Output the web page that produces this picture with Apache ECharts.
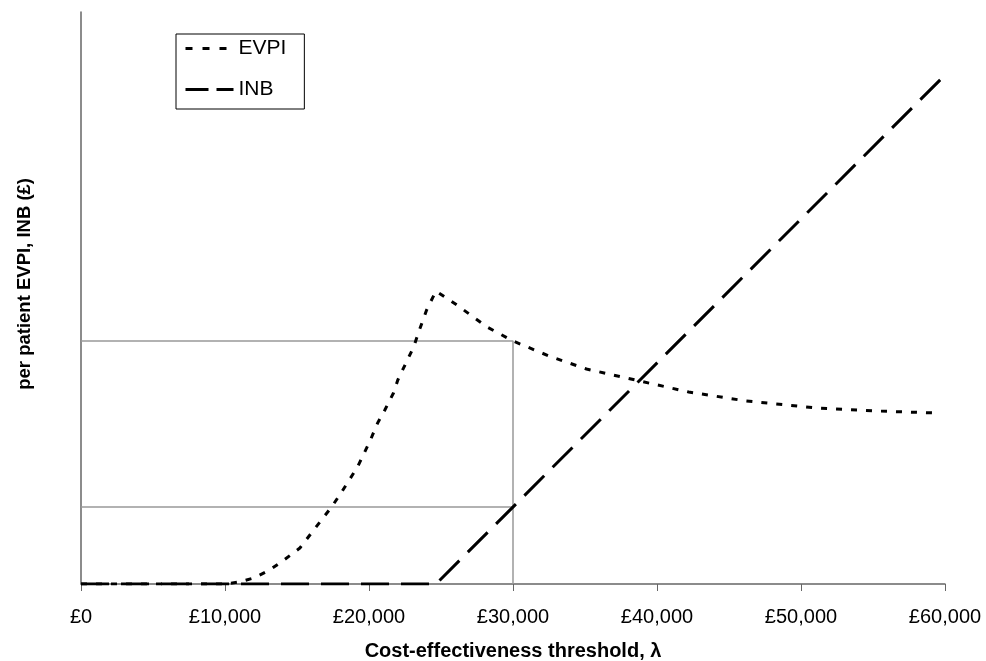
<!DOCTYPE html>
<html><head><meta charset="utf-8">
<script src="https://cdn.jsdelivr.net/npm/echarts@6/dist/echarts.min.js"></script>
<style>html,body{margin:0;padding:0;background:#fff}#c{width:986px;height:661px}</style>
</head><body><div id="c"></div>
<script>
var xTicks = [0, 10000, 20000, 30000, 40000, 50000, 60000];
var evpiX = [0,10000,11000,12000,13100,14000,15200,16000,17400,18100,19200,20100,20600,21100,21700,22000,23100,23500,24000,24650,26100,28200,30000,32500,35100,38800,42200,46200,51100,55300,59400];
var evpiY = [0,0,2,6,14,23,36,51,77,92,117,144,161,174,191,204,237,254,274,293,279,257,243,228,215,203,192,183,176,173,171];
var inbX = [0, 24650, 60000];
var inbY = [0, 0, 509];
var threshold = 30000;
var evpiAtThreshold = 243;
var inbAtThreshold = 77;

function zip(a, b) { return a.map(function (v, i) { return [v, b[i]]; }); }

var chart = echarts.init(document.getElementById('c'));
chart.setOption({
  animation: false,
  backgroundColor: '#fff',
  textStyle: { fontFamily: 'Liberation Sans, Arial, sans-serif' },
  grid: { left: 81, right: 41, top: 12, bottom: 77, containLabel: false, outerBoundsMode: 'none' },
  xAxis: {
    type: 'value', min: 0, max: 60000, interval: 10000,
    name: 'Cost-effectiveness threshold, λ',
    nameLocation: 'middle', nameGap: 57,
    nameTextStyle: { fontSize: 20, fontWeight: 'bold', color: '#000' },
    axisLine: { lineStyle: { color: '#666', width: 1.5 } },
    axisTick: { show: true, length: 7, lineStyle: { color: '#666' } },
    axisLabel: { fontSize: 20, color: '#000', margin: 23,
      formatter: function (v) { return '£' + v.toLocaleString('en-GB'); } },
    splitLine: { show: false }
  },
  yAxis: {
    type: 'value', min: 0, max: 572,
    axisLine: { show: true, lineStyle: { color: '#666', width: 1.5 } },
    axisTick: { show: false }, axisLabel: { show: false },
    splitLine: { show: false }
  },
  legend: {
    orient: 'vertical', left: 176, top: 34,
    data: [
      { name: 'EVPI', lineStyle: { type: [7, 10], width: 3 } },
      { name: 'INB', lineStyle: { type: [23, 8], width: 3 } }
    ],
    borderColor: '#000', borderWidth: 1, borderRadius: 0,
    padding: [4, 18, 9, 8], itemGap: 20, itemWidth: 48, itemHeight: 20,
    itemStyle: { opacity: 0, color: 'rgba(0,0,0,0)', borderWidth: 0 },
    textStyle: { fontSize: 21, color: '#000' }
  },
  graphic: [{
    type: 'text', left: 15, top: 178, rotation: Math.PI / 2,
    style: { text: 'per patient EVPI, INB (£)', font: 'bold 18.5px "Liberation Sans", Arial, sans-serif', fill: '#000' }
  }],
  series: [
    { name: 'ref1', type: 'line', data: [[0, evpiAtThreshold], [threshold, evpiAtThreshold], [threshold, 0]],
      symbol: 'none', lineStyle: { color: '#999', width: 1.5 }, z: 1, silent: true },
    { name: 'ref2', type: 'line', data: [[0, inbAtThreshold], [threshold, inbAtThreshold]],
      symbol: 'none', lineStyle: { color: '#999', width: 1.5 }, z: 1, silent: true },
    { name: 'EVPI', type: 'line', data: zip(evpiX, evpiY), symbol: 'none',
      itemStyle: { color: '#000' },
      lineStyle: { color: '#000', width: 3, type: [6, 9] }, z: 3 },
    { name: 'INB', type: 'line', data: zip(inbX, inbY), symbol: 'none',
      itemStyle: { color: '#000' },
      lineStyle: { color: '#000', width: 3, type: [28, 12] }, z: 3 }
  ]
});
</script></body></html>
